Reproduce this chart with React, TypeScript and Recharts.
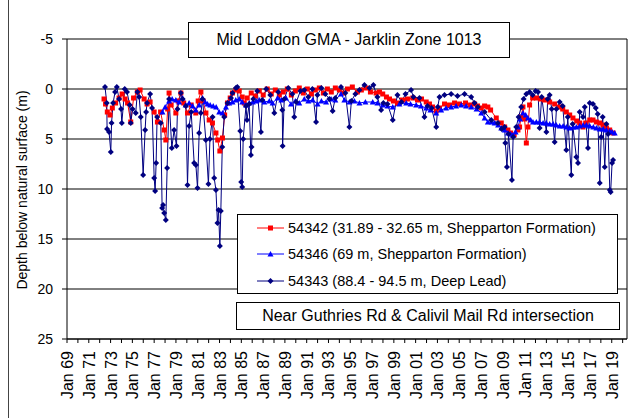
import React from "react";
import {
  LineChart,
  Line,
  CartesianGrid,
  XAxis,
  YAxis,
  ReferenceLine,
} from "recharts";

// 54342 (31.89 - 32.65 m, Shepparton Formation)
const years54342 = [
  1972.4, 1972.54, 1972.7, 1972.95, 1973.16, 1973.46, 1973.78, 1974.06, 1974.33, 1974.56,
  1974.85, 1975.11, 1975.46, 1975.71, 1976.08, 1976.35, 1976.63, 1977.0, 1977.3, 1977.59,
  1977.92, 1978.07, 1978.24, 1978.37, 1978.56, 1978.99, 1979.2, 1979.45, 1979.71, 1980.06,
  1980.4, 1980.82, 1981.04, 1981.29, 1981.5, 1981.75, 1982.05, 1982.35, 1982.67, 1982.83,
  1983.03, 1983.27, 1983.47, 1983.73, 1983.98, 1984.19, 1984.5, 1984.81, 1985.08, 1985.27,
  1985.54, 1985.91, 1986.28, 1986.65, 1987.01, 1987.38, 1987.75, 1988.12, 1988.49, 1988.85,
  1989.22, 1989.59, 1989.96, 1990.32, 1990.69, 1991.06, 1991.43, 1991.79, 1992.16, 1992.53,
  1992.9, 1993.26, 1993.63, 1994.0, 1994.37, 1994.74, 1995.19, 1995.65, 1996.02, 1996.45,
  1996.85, 1997.37, 1997.68, 1997.98, 1998.32, 1998.6, 1998.96, 1999.33, 1999.79, 2000.25,
  2000.74, 2001.17, 2001.54, 2001.97, 2002.27, 2002.55, 2002.89, 2003.19, 2003.65, 2004.11,
  2004.57, 2005.03, 2005.58, 2006.04, 2006.41, 2006.68, 2007.02, 2007.33, 2007.63, 2007.88,
  2008.4, 2008.86, 2009.17, 2009.47, 2009.72, 2010.04, 2010.39, 2010.54, 2010.68, 2010.85,
  2011.0, 2011.16, 2011.31, 2011.46, 2011.74, 2012.1, 2012.47, 2012.84, 2013.3, 2013.76,
  2014.22, 2014.5, 2014.83, 2015.14, 2015.44, 2015.78, 2016.06, 2016.36, 2016.61, 2016.98,
  2017.28, 2017.59, 2017.9, 2018.2, 2018.51, 2018.81, 2019.12,
];
const depth54342 = [
  1.0, 1.5, 2.3, 2.6, 1.9, 1.4, 0.9, 0.5, 1.0, 1.4,
  3.3, 0.9, 0.3, 0.1, 1.0, 1.5, 1.3, 2.3, 3.3, 2.3,
  4.1, 5.1, 2.0, 0.4, 1.6, 2.4, 1.2, 0.4, 1.4, 2.4,
  1.6, 2.4, 1.2, 0.3, 1.2, 2.4, 3.1, 3.4, 4.4, 5.1,
  6.2, 4.9, 2.6, 1.4, 0.9, 0.4, 0.1, 0.2, 0.8, 1.4,
  0.9, 0.4, 0.7, 0.2, 0.6, 0.0, 0.5, 0.1, 0.6, 0.3,
  0.0, 0.6, 0.2, -0.1, 0.4, 0.0, 0.5, 0.1, -0.1, 0.4,
  0.0, 0.3, -0.1, 0.1, 0.4, 0.0, -0.2, 0.3, 0.1, -0.1,
  0.3, 0.4, 0.3, 0.5, 0.8, 1.0, 1.2, 1.4, 1.1, 1.0,
  0.9, 1.1, 1.0, 1.3, 1.5, 1.8, 2.2, 1.9, 1.5, 1.6,
  1.4, 1.5, 1.4, 1.6, 1.5, 1.7, 1.9, 1.7, 1.8, 2.1,
  2.9, 3.4, 3.8, 4.1, 4.4, 4.6, 4.1, 3.8, 2.8, 1.8,
  3.0, 5.4, 3.8, 1.6, 0.9, 0.9, 1.0, 1.1, 1.3, 1.5,
  1.8, 2.0, 2.3, 2.6, 2.9, 3.2, 3.4, 3.8, 3.4, 3.1,
  3.1, 3.3, 3.4, 3.6, 3.9, 4.1, 4.4,
];

// 54346 (69 m, Shepparton Formation)
const years54346 = [
  1977.76, 1978.01, 1978.37, 1978.65, 1978.99, 1979.29, 1979.6, 1979.89, 1980.21, 1980.53,
  1980.82, 1981.13, 1981.44, 1981.68, 1981.9, 1982.14, 1982.42, 1982.69, 1982.97, 1983.27,
  1983.59, 1983.89, 1984.19, 1984.49, 1984.81, 1985.08, 1985.43, 1985.73, 1986.05, 1986.37,
  1986.65, 1987.11, 1987.57, 1987.87, 1988.33, 1988.67, 1989.1, 1989.56, 1989.96, 1990.32,
  1990.78, 1991.15, 1991.55, 1992.0, 1992.35, 1992.78, 1993.24, 1993.63, 1994.15, 1994.46,
  1994.92, 1995.38, 1995.84, 1996.39, 1997.06, 1997.49, 1997.98, 1998.41, 1998.9, 1999.51,
  2000.13, 2000.53, 2001.05, 2001.49, 2001.97, 2002.36, 2002.89, 2003.34, 2003.79, 2004.26,
  2004.71, 2005.19, 2005.63, 2006.1, 2006.59, 2007.02, 2007.33, 2007.63, 2007.97, 2008.25,
  2008.57, 2008.86, 2009.17, 2009.47, 2009.72, 2009.93, 2010.18, 2010.39, 2010.59, 2010.85,
  2011.1, 2011.31, 2011.56, 2011.77, 2012.08, 2012.38, 2012.7, 2012.99, 2013.3, 2013.62,
  2013.91, 2014.22, 2014.54, 2014.83, 2015.14, 2015.46, 2015.75, 2016.06, 2016.38, 2016.67,
  2016.98, 2017.31, 2017.59, 2017.9, 2018.22, 2018.51, 2018.81, 2019.04, 2019.27,
];
const depth54346 = [
  2.3, 1.8, 1.2, 1.0, 1.1, 1.3, 0.9, 1.6, 1.4, 1.7,
  2.1, 1.6, 0.9, 1.3, 1.5, 1.6, 1.7, 1.8, 2.3, 2.4,
  1.8, 1.4, 1.3, 1.1, 1.0, 1.3, 1.6, 1.4, 1.3, 1.2,
  1.1, 1.3, 1.2, 1.4, 0.9, 1.1, 0.9, 1.5, 1.2, 1.4,
  1.0, 1.2, 1.1, 1.5, 1.2, 1.3, 1.0, 1.1, 0.5, 1.1,
  1.3, 1.2, 1.4, 1.3, 1.3, 1.4, 1.6, 1.7, 1.8, 1.5,
  1.4, 1.5, 1.6, 1.7, 1.9, 2.1, 2.4, 2.1, 1.9, 1.8,
  1.7, 1.6, 1.7, 1.8, 2.0, 2.4, 2.9, 3.3, 3.3, 3.4,
  3.6, 3.9, 4.1, 4.4, 4.5, 4.6, 4.3, 3.8, 3.0, 2.4,
  2.6, 2.9, 3.1, 3.3, 3.3, 3.3, 3.4, 3.4, 3.5, 3.5,
  3.6, 3.7, 3.7, 3.8, 3.9, 3.8, 3.8, 3.7, 3.6, 3.6,
  3.7, 3.8, 3.9, 4.0, 4.0, 4.1, 4.2, 4.3, 4.4,
];

// 54343 (88.4 - 94.5 m, Deep Lead)
const years54343 = [
  1972.49, 1972.65, 1972.68, 1972.86, 1973.02, 1973.09, 1973.23, 1973.41, 1973.57, 1973.78,
  1973.96, 1974.03, 1974.3, 1974.51, 1974.76, 1974.85, 1975.02, 1975.31, 1975.46, 1975.62,
  1975.77, 1975.99, 1976.17, 1976.26, 1976.35, 1976.63, 1976.81, 1977.0, 1977.09, 1977.18,
  1977.27, 1977.61, 1977.73, 1977.82, 1977.92, 1978.07, 1978.19, 1978.37, 1978.62, 1978.83,
  1979.05, 1979.14, 1979.45, 1979.62, 1979.91, 1980.06, 1980.21, 1980.4, 1980.67, 1980.83,
  1980.98, 1981.13, 1981.29, 1981.44, 1981.74, 1981.98, 1982.12, 1982.36, 1982.51, 1982.67,
  1982.81, 1982.91, 1983.03, 1983.12, 1983.25, 1983.43, 1983.73, 1984.05, 1984.19, 1984.5,
  1984.63, 1984.9, 1984.99, 1985.08, 1985.17, 1985.43, 1985.52, 1985.72, 1985.88, 1985.94,
  1986.1, 1986.46, 1986.8, 1986.92, 1987.29, 1987.66, 1988.03, 1988.39, 1988.76, 1988.79,
  1988.94, 1989.31, 1989.68, 1989.86, 1990.05, 1990.42, 1990.78, 1991.15, 1991.52, 1991.86,
  1991.98, 1992.35, 1992.71, 1993.08, 1993.38, 1993.63, 1994.15, 1994.55, 1994.92, 1995.1,
  1995.47, 1995.84, 1996.3, 1996.76, 1997.12, 1997.49, 1997.83, 1998.04, 1998.41, 1998.9,
  1999.33, 1999.7, 2000.07, 2000.58, 2000.8, 2001.35, 2001.81, 2002.09, 2002.46, 2002.89,
  2003.03, 2003.19, 2003.65, 2004.26, 2004.84, 2005.49, 2006.1, 2006.41, 2006.71, 2007.33,
  2007.94, 2008.55, 2008.89, 2009.17, 2009.23, 2009.38, 2009.53, 2009.84, 2009.95, 2010.23,
  2010.45, 2010.69, 2010.91, 2011.16, 2011.46, 2011.74, 2012.01, 2012.23, 2012.38, 2012.57,
  2013.0, 2013.12, 2013.3, 2013.49, 2013.76, 2013.92, 2014.22, 2014.5, 2014.83, 2014.96,
  2015.29, 2015.41, 2015.75, 2015.9, 2016.06, 2016.36, 2016.52, 2016.82, 2016.98, 2017.28,
  2017.53, 2017.71, 2017.9, 2018.03, 2018.17, 2018.36, 2018.51, 2018.67, 2018.82, 2018.9,
  2019.03, 2019.12,
];
const depth54343 = [
  -0.2, 1.4, 4.0, 4.3, 6.3, 3.4, 1.4, 0.3, -0.2, 1.0,
  2.0, 3.4, 0.0, 0.3, 1.6, 3.4, 2.0, 2.4, 0.3, 0.8,
  2.8, 8.6, 4.1, 2.3, 1.4, 0.5, 1.9, 8.9, 10.2, 7.4,
  2.8, 3.4, 11.9, 11.6, 12.4, 13.1, 7.9, 1.0, 5.9, 4.1,
  5.7, 2.0, 0.4, 1.0, 1.7, 9.6, 3.7, 2.3, 7.4, 7.6,
  9.9, 4.4, 2.4, 1.0, 5.1, 9.5, 5.0, 2.8, 8.9, 10.1,
  13.4, 12.1, 15.7, 12.2, 5.8, 2.8, 1.4, 0.9, 0.4, -0.1,
  -0.2, 4.2, 9.3, 9.8, 5.0, 1.7, 3.1, 1.5, 6.6, 5.8,
  1.0, 0.2, 4.3, 1.1, 0.0, 0.6, 2.4, 0.3, 2.1, 5.7,
  1.0, -0.1, 0.5, 2.8, 1.3, 0.2, 0.1, 0.8, 0.0, 3.3,
  0.6, -0.1, 0.5, 1.0, 2.2, 0.9, -0.2, 0.4, 3.8, 1.2,
  0.5, 0.1, -0.4, -0.1, -0.4, 0.8, 2.1, 1.4, 1.5, 3.1,
  0.6, 1.3, 0.5, 0.1, 0.8, 0.9, 2.8, 1.7, 1.9, 3.8,
  1.8, 0.8, 0.6, 0.5, 0.7, 0.5, 0.8, 1.4, 1.8, 2.3,
  3.1, 3.4, 4.0, 3.8, 5.4, 7.8, 4.5, 9.1, 4.8, 3.8,
  2.8, 1.8, 1.0, 0.5, 0.3, 0.6, 0.2, 0.3, 3.9, 0.8,
  4.3, 1.0, 0.6, 2.0, 5.3, 2.0, 1.3, 1.7, 6.1, 2.8,
  8.6, 3.5, 6.8, 7.4, 2.3, 2.8, 1.8, 5.9, 1.4, 1.5,
  1.9, 2.5, 9.4, 4.8, 2.8, 7.8, 3.5, 4.5, 10.1, 10.3,
  7.4, 7.1,
];

const yTicks = [-5, 0, 5, 10, 15, 20, 25];
const xTicks = Array.from({ length: 52 }, (_, i) => 1969 + i);

const seriesNames = [
  "54342 (31.89 - 32.65 m, Shepparton Formation)",
  "54346 (69 m, Shepparton Formation)",
  "54343 (88.4 - 94.5 m, Deep Lead)",
];
const seriesColors = ["#ff0000", "#0000ff", "#000080"];

const title = "Mid Loddon GMA - Jarklin Zone 1013";
const note = "Near Guthries Rd & Calivil Mail Rd intersection";
const yTitle = "Depth below natural surface (m)";

const FONT = "Arial, 'Liberation Sans', sans-serif";

function toRows(years: number[], depth: number[]) {
  return years.map((y, i) => ({ year: y, depth: depth[i] }));
}

const rows54342 = toRows(years54342, depth54342);
const rows54346 = toRows(years54346, depth54346);
const rows54343 = toRows(years54343, depth54343);

function Marker({ kind, cx, cy, color }: { kind: string; cx: number; cy: number; color: string }) {
  if (cx == null || cy == null) return null;
  if (kind === "square") {
    return <rect x={cx - 2.5} y={cy - 2.5} width={5} height={5} fill={color} />;
  }
  if (kind === "triangle") {
    return (
      <polygon
        points={`${cx},${cy - 3} ${cx + 3},${cy + 2.5} ${cx - 3},${cy + 2.5}`}
        fill={color}
      />
    );
  }
  return (
    <polygon
      points={`${cx},${cy - 3} ${cx + 3},${cy} ${cx},${cy + 3} ${cx - 3},${cy}`}
      fill={color}
    />
  );
}

const markerKinds = ["square", "triangle", "diamond"];

function dotFor(idx: number) {
  return (p: any) => (
    <Marker key={`m${idx}-${p.index}`} kind={markerKinds[idx]} cx={p.cx} cy={p.cy} color={seriesColors[idx]} />
  );
}

function XTick({ x, y, payload }: any) {
  const yr = payload.value as number;
  if (yr % 2 === 0) return null;
  const label = `Jan ${String(yr % 100).padStart(2, "0")}`;
  return (
    <text
      transform={`translate(${x + 6},${y + 6}) rotate(-90)`}
      textAnchor="end"
      fontSize={16}
      fontFamily={FONT}
      fill="#000"
    >
      {label}
    </text>
  );
}

export default function App() {
  return (
    <div style={{ position: "absolute", left: 0, top: 0, width: 635, height: 418, background: "#fff", fontFamily: FONT }}>
      <LineChart
        width={635}
        height={418}
        margin={{ top: 39, right: 8, bottom: 0, left: 0 }}
      >
        <CartesianGrid vertical={false} stroke="#000" strokeWidth={1} />
        <XAxis
          type="number"
          dataKey="year"
          domain={[1969, 2020.4]}
          ticks={xTicks}
          interval={0}
          tick={<XTick />}
          tickSize={4}
          height={79}
          stroke="#000"
          allowDataOverflow
        />
        <YAxis
          type="number"
          domain={[-5, 25]}
          ticks={yTicks}
          reversed
          width={67}
          tickSize={5}
          tickMargin={9}
          stroke="#000"
          tick={{ fontSize: 14, fill: "#000", fontFamily: FONT }}
          label={{
            content: () => (
              <text
                transform="translate(27,190) rotate(-90)"
                textAnchor="middle"
                fontSize={14}
                fontFamily={FONT}
                fill="#000"
              >
                {yTitle}
              </text>
            ),
          }}
        />
        <ReferenceLine x={2020.4} stroke="#000" ifOverflow="extendDomain" />
        <Line
          data={rows54342}
          dataKey="depth"
          name={seriesNames[0]}
          type="linear"
          stroke={seriesColors[0]}
          strokeWidth={1}
          dot={dotFor(0)}
          isAnimationActive={false}
        />
        <Line
          data={rows54346}
          dataKey="depth"
          name={seriesNames[1]}
          type="linear"
          stroke={seriesColors[1]}
          strokeWidth={1}
          dot={dotFor(1)}
          isAnimationActive={false}
        />
        <Line
          data={rows54343}
          dataKey="depth"
          name={seriesNames[2]}
          type="linear"
          stroke={seriesColors[2]}
          strokeWidth={1}
          dot={dotFor(2)}
          isAnimationActive={false}
        />
      </LineChart>

      <div style={{ position: "absolute", left: 8, top: 0, width: 1, height: 418, background: "#444" }} />

      <div
        style={{
          position: "absolute",
          left: 188,
          top: 22,
          width: 322,
          height: 36,
          boxSizing: "border-box",
          border: "1px solid #000",
          background: "#fff",
          display: "flex",
          alignItems: "center",
          justifyContent: "center",
          fontSize: 16,
          color: "#000",
        }}
      >
        {title}
      </div>

      <div
        style={{
          position: "absolute",
          left: 237,
          top: 214,
          width: 381,
          height: 80,
          boxSizing: "border-box",
          border: "1px solid #000",
          background: "#fff",
        }}
      >
        {seriesNames.map((name, i) => (
          <div
            key={name}
            style={{
              position: "absolute",
              left: 19,
              top: [4, 30, 57][i],
              height: 18,
              display: "flex",
              alignItems: "center",
              whiteSpace: "nowrap",
              fontSize: 14.5,
              color: "#000",
            }}
          >
            <svg width={28} height={10} style={{ marginRight: 3 }}>
              <line x1={0} y1={5} x2={27} y2={5} stroke={seriesColors[i]} strokeWidth={1} />
              <Marker kind={markerKinds[i]} cx={13.5} cy={5} color={seriesColors[i]} />
            </svg>
            {name}
          </div>
        ))}
      </div>

      <div
        style={{
          position: "absolute",
          left: 236,
          top: 302,
          width: 384,
          height: 28,
          boxSizing: "border-box",
          border: "1px solid #000",
          background: "#fff",
          display: "flex",
          alignItems: "center",
          justifyContent: "center",
          fontSize: 16,
          color: "#000",
          whiteSpace: "nowrap",
        }}
      >
        {note}
      </div>
    </div>
  );
}
